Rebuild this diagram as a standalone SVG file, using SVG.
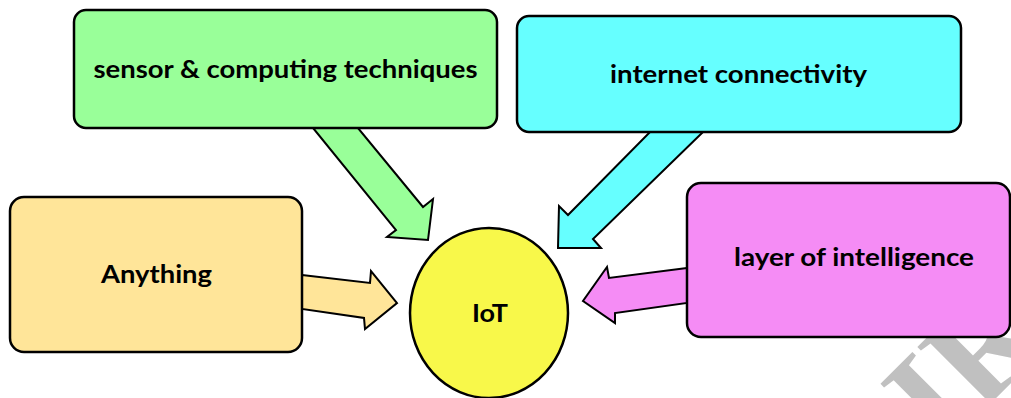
<svg xmlns="http://www.w3.org/2000/svg" width="1011" height="398" viewBox="0 0 1011 398">
  <style>
    .box { stroke: #000; stroke-width: 2.5; }
    .arrow { stroke: #000; stroke-width: 2; stroke-linejoin: miter; }
    .label { font-family: Lato, "Open Sans", "Liberation Sans", sans-serif; font-weight: bold; font-size: 24px; fill: #000; text-anchor: middle; }
    .green { fill: #99FF99; }
    .cyan { fill: #66FFFF; }
    .sand { fill: #FFE599; }
    .pink { fill: #F58CF5; }
    .yellow { fill: #F8F84A; }
  </style>
  <rect width="1011" height="398" fill="#fff"/>

  <!-- faint diagonal watermark in the lower right corner -->
  <text x="942" y="452" transform="rotate(-45 942 452)" font-family="Liberation Serif, serif" font-weight="bold" font-size="140" fill="#c0c0c0">IR</text>

  <!-- block arrows feeding the central node -->
  <g id="connectors">
    <polygon class="arrow green" points="313,128 358,128 423,207 433,199 428,240 387,237 396,230"/>
    <polygon class="arrow cyan" points="650,132 703,132 593,239 601,248 558,248 559,206 568,215"/>
    <polygon class="arrow sand" points="302,275 370,283 371,271 397,303 365,329 364,318 302,309"/>
    <polygon class="arrow pink" points="687,268 609,278 607,267 583,301 615,323 615,313 687,303"/>
  </g>

  <g id="sensing">
    <rect class="box green" x="74" y="10" width="423" height="118" rx="12"/>
    <text class="label" x="285.5" y="78" textLength="384" lengthAdjust="spacingAndGlyphs">sensor &amp; computing techniques</text>
  </g>

  <g id="connectivity">
    <rect class="box cyan" x="517" y="16" width="444" height="116" rx="12"/>
    <text class="label" x="738.5" y="83" textLength="257" lengthAdjust="spacingAndGlyphs">internet connectivity</text>
  </g>

  <g id="anything">
    <rect class="box sand" x="10" y="197" width="292" height="155" rx="14"/>
    <text class="label" x="156.5" y="283" textLength="111" lengthAdjust="spacingAndGlyphs">Anything</text>
  </g>

  <g id="intelligence">
    <rect class="box pink" x="687" y="183" width="323" height="154" rx="14"/>
    <text class="label" x="854" y="266" textLength="240" lengthAdjust="spacingAndGlyphs">layer of intelligence</text>
  </g>

  <g id="iot">
    <ellipse class="box yellow" cx="489" cy="313" rx="79" ry="85"/>
    <text class="label" x="490" y="322" textLength="36" lengthAdjust="spacingAndGlyphs">IoT</text>
  </g>
</svg>
